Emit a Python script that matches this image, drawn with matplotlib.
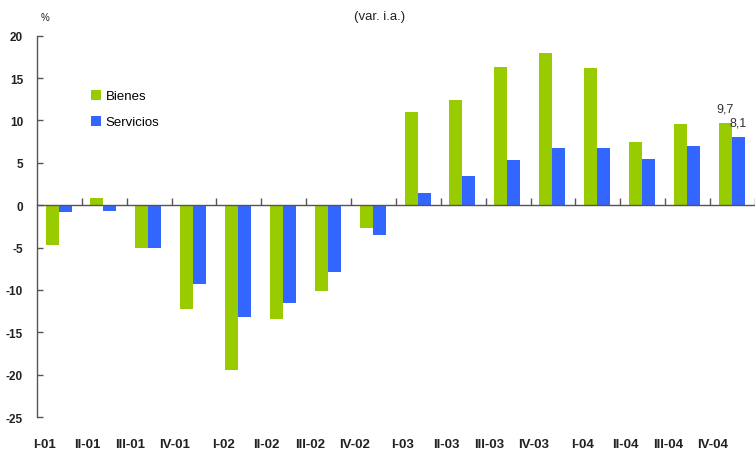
import numpy as np
import matplotlib.pyplot as plt

trimestres = ['I-01', 'II-01', 'III-01', 'IV-01', 'I-02', 'II-02', 'III-02', 'IV-02',
              'I-03', 'II-03', 'III-03', 'IV-03', 'I-04', 'II-04', 'III-04', 'IV-04']
bienes = [-4.7, 0.9, -5.1, -12.2, -19.4, -13.4, -10.1, -2.7,
          11.0, 12.4, 16.3, 18.0, 16.2, 7.4, 9.6, 9.7]
servicios = [-0.8, -0.7, -5.0, -9.3, -13.2, -11.5, -7.9, -3.5,
             1.4, 3.4, 5.3, 6.7, 6.7, 5.4, 7.0, 8.1]
yticks = [20, 15, 10, 5, 0, -5, -10, -15, -20, -25]

verde = '#99cc00'
azul = '#3366ff'
gris = '#555555'
fuente = ['Liberation Sans', 'DejaVu Sans']

fig = plt.figure(figsize=(7.55, 4.56), dpi=100)
ax = fig.add_axes([0.049, 0.0833, 0.951, 0.8362])

x = np.arange(len(trimestres))
w = 0.29
ax.bar(x - 0.165, bienes, w, color=verde, label='Bienes')
ax.bar(x + 0.125, servicios, w, color=azul, label='Servicios')

ax.set_xlim(-0.5, len(trimestres) - 0.5)
ax.set_ylim(-25, 20)

# ejes: vertical a la izquierda, horizontal en el cero
for s in ['top', 'right']:
    ax.spines[s].set_visible(False)
ax.spines['bottom'].set_position(('data', 0))
for s in ['bottom', 'left']:
    ax.spines[s].set_color(gris)
    ax.spines[s].set_linewidth(1.0)

ax.set_xticks(x + 0.5)
ax.set_xticklabels([])
ax.tick_params(axis='x', direction='in', length=5, width=1, color=gris)
ax.set_yticks(yticks)
ax.set_yticklabels([str(v) for v in yticks], fontsize=8.5, fontweight='bold',
                   family=fuente, color='#222222')
ax.tick_params(axis='y', direction='in', length=4, width=1, color=gris, pad=10)

# etiquetas de los trimestres debajo del grafico
for i, t in enumerate(trimestres):
    ax.text(i - 0.09, -28.2, t, ha='right', va='center', fontsize=9.5,
            fontweight='bold', family=fuente, color='#222222',
            clip_on=False)

# valores del ultimo trimestre
ax.annotate('9,7', (x[-1] - 0.165, bienes[-1]), xytext=(0, 6),
            textcoords='offset points', ha='center', va='bottom',
            fontsize=9, family=fuente, color='#333333')
ax.annotate('8,1', (x[-1] + 0.125, servicios[-1]), xytext=(0, 6),
            textcoords='offset points', ha='center', va='bottom',
            fontsize=9, family=fuente, color='#333333')

ax.legend(loc='upper left', bbox_to_anchor=(0.058, 0.89), frameon=False,
          handlelength=0.8, handleheight=0.85, handletextpad=0.35,
          labelspacing=1.0, prop={'family': fuente, 'size': 9.5})

fig.text(0.503, 0.962, '(var. i.a.)', ha='center', va='center',
         fontsize=9.5, family=fuente, color='#222222')
fig.text(0.06, 0.96, '%', ha='center', va='center', fontsize=7,
         family=fuente, color='#222222')

fig.savefig('out.png', dpi=100)
